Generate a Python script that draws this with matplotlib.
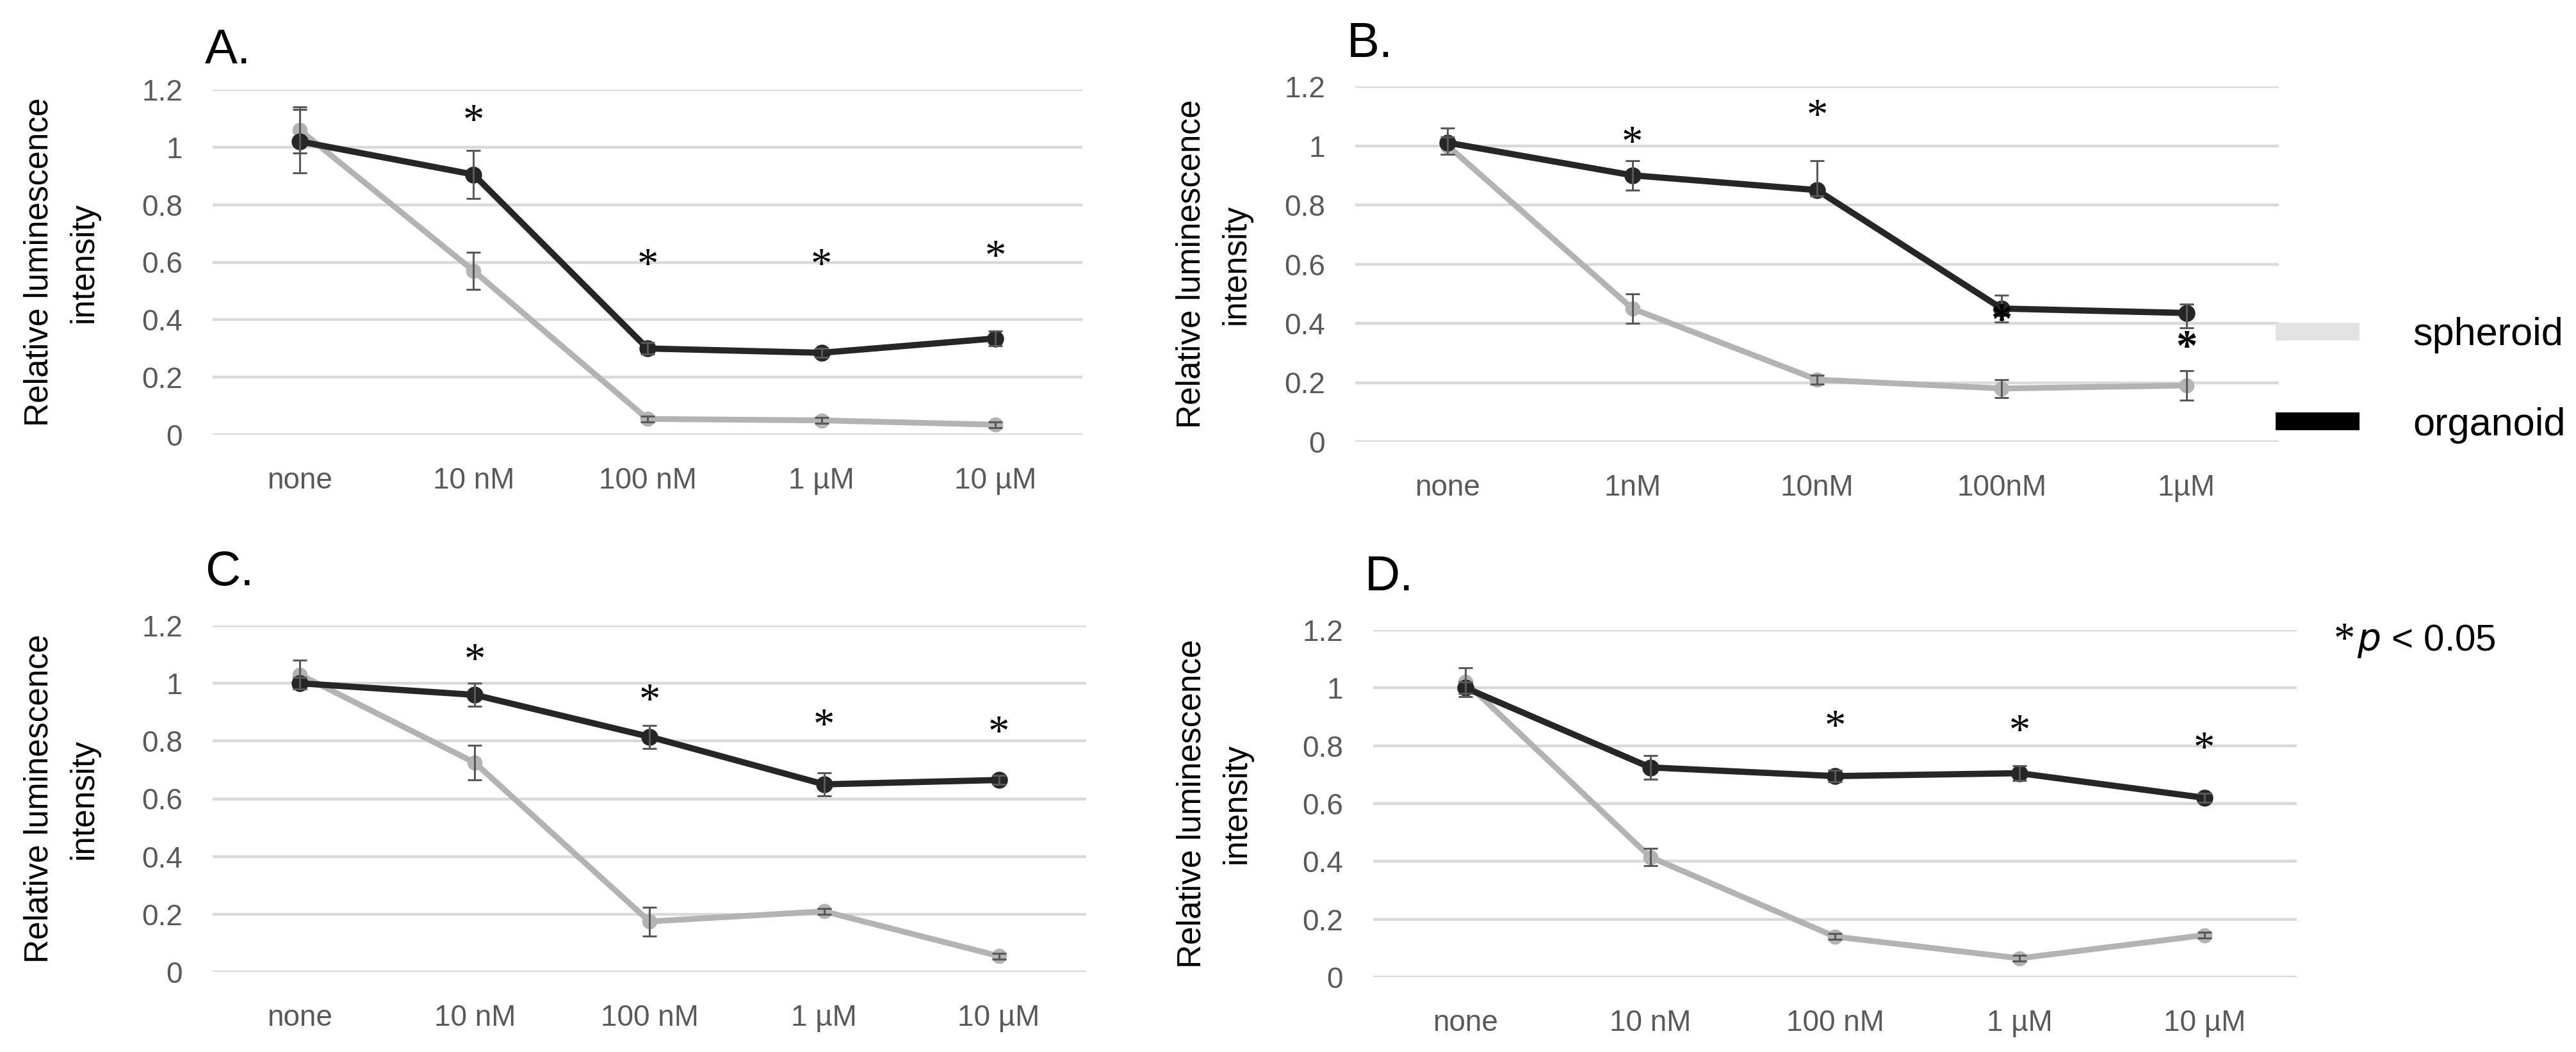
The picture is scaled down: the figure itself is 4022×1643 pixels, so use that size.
import matplotlib
matplotlib.use("Agg")
import matplotlib.pyplot as plt
from matplotlib.lines import Line2D

plt.rcParams['font.family'] = ['Liberation Sans', 'DejaVu Sans']

# ---- data ----
doses_a = ['none', '10 nM', '100 nM', '1 µM', '10 µM']
doses_b = ['none', '1nM', '10nM', '100nM', '1µM']

# panel A
sph_a = [1.06, 0.57, 0.055, 0.05, 0.035]
sph_a_err = [0.08, 0.065, 0.01, 0.01, 0.01]
org_a = [1.02, 0.905, 0.30, 0.285, 0.335]
org_a_err = [0.11, 0.083, 0.02, 0.015, 0.025]
star_a = [None, 1.10, 0.60, 0.60, 0.63]

# panel B
sph_b = [1.0, 0.45, 0.21, 0.18, 0.19]
sph_b_err = [0.03, 0.05, 0.015, 0.03, 0.05]
org_b = [1.01, 0.90, 0.85, 0.45, 0.435]
org_b_err_lo = [0.04, 0.05, 0.02, 0.045, 0.05]
org_b_err_hi = [0.05, 0.05, 0.10, 0.045, 0.03]
star_b = [None, 1.02, 1.11, 0.42, 0.33]
bold_b = [False, False, False, True, True]

# panel C
sph_c = [1.03, 0.725, 0.175, 0.21, 0.055]
sph_c_err = [0.05, 0.06, 0.05, 0.01, 0.01]
org_c = [1.0, 0.96, 0.815, 0.65, 0.665]
org_c_err = [0.02, 0.04, 0.04, 0.04, 0.015]
star_c = [None, 1.09, 0.95, 0.865, 0.84]

# panel D
sph_d = [1.02, 0.415, 0.14, 0.065, 0.145]
sph_d_err = [0.05, 0.03, 0.01, 0.01, 0.01]
org_d = [1.0, 0.725, 0.695, 0.705, 0.62]
org_d_err = [0.02, 0.04, 0.02, 0.025, 0.015]
star_d = [None, None, 0.875, 0.86, 0.80]

GRAY = '#b3b3b3'
BLACK = '#262626'
ERR = '#595959'
GRID = '#d9d9d9'

W, H = 4022, 1643
fig = plt.figure(figsize=(W / 100, H / 100), dpi=100)


def px_axes(x0, x1, ytop, ybot):
    return fig.add_axes([x0 / W, 1 - ybot / H, (x1 - x0) / W, (ybot - ytop) / H])


def draw_panel(ax, letter, letter_y, label_x, labels, sph, sph_err, org, org_err,
               stars, bold=None):
    x = list(range(len(labels)))
    ax.set_xlim(-0.5, len(labels) - 0.5)
    ax.set_ylim(0, 1.2)
    ax.set_yticks([0, 0.2, 0.4, 0.6, 0.8, 1.0, 1.2])
    ax.set_yticklabels(['0', '0.2', '0.4', '0.6', '0.8', '1', '1.2'])
    ax.set_xticks(x)
    ax.set_xticklabels(labels)
    ax.grid(axis='y', color=GRID, lw=3.2, zorder=0)
    ax.set_axisbelow(True)
    for s in ax.spines.values():
        s.set_visible(False)
    ax.tick_params(axis='both', length=0, labelsize=33, colors='#595959')
    ax.tick_params(axis='y', pad=34)
    ax.tick_params(axis='x', pad=36)

    ax.plot(x, sph, color=GRAY, lw=6.5, marker='o', ms=16, zorder=3)
    ax.plot(x, org, color=BLACK, lw=7, marker='o', ms=18, zorder=4)
    ax.errorbar(x, sph, yerr=sph_err, fmt='none', ecolor=ERR, elinewidth=2.2,
                capsize=8, capthick=2.2, zorder=5)
    ax.errorbar(x, org, yerr=org_err, fmt='none', ecolor=ERR, elinewidth=2.2,
                capsize=8, capthick=2.2, zorder=5)

    for i, yv in enumerate(stars):
        if yv is None:
            continue
        w = 'bold' if (bold and bold[i]) else 'normal'
        ax.text(i, yv, '*', family='Liberation Serif', fontsize=48, fontweight=w,
                ha='center', va='center_baseline', color='black', zorder=6)

    ax.set_ylabel('Relative luminescence\nintensity', fontsize=37, color='black',
                  linespacing=1.55)
    ax.yaxis.label.set_va('center')
    ax.yaxis.set_label_coords(label_x, 0.5)
    ax.text(-0.009, letter_y, letter, transform=ax.transAxes, fontsize=55,
            ha='left', va='baseline', color='black')


ax_a = px_axes(332, 1690, 140, 679)
draw_panel(ax_a, 'A.', 1.076, -0.174, doses_a, sph_a, sph_a_err, org_a, org_a_err, star_a)

ax_b = px_axes(2116, 3558, 135, 690)
draw_panel(ax_b, 'B.', 1.083, -0.153, doses_b, sph_b, sph_b_err, org_b,
           [org_b_err_lo, org_b_err_hi], star_b, bold=bold_b)

ax_c = px_axes(332, 1696, 977, 1518)
draw_panel(ax_c, 'C.', 1.116, -0.173, doses_a, sph_c, sph_c_err, org_c, org_c_err, star_c)

ax_d = px_axes(2144, 3586, 984, 1526)
draw_panel(ax_d, 'D.', 1.114, -0.172, doses_a, sph_d, sph_d_err, org_d, org_d_err, star_d)

# legend
handles = [Line2D([], [], color='#e3e3e3', lw=20, solid_capstyle='butt'),
           Line2D([], [], color='black', lw=20, solid_capstyle='butt')]
fig.legend(handles, ['spheroid', 'organoid'], loc='upper left',
           bbox_to_anchor=(3553 / W, 1 - 495 / H), frameon=False, fontsize=44,
           handlelength=2.15, handletextpad=1.35, labelspacing=1.37, borderpad=0,
           borderaxespad=0)

# significance note
fig.text(3644 / W, 1 - 994 / H, '*', family='Liberation Serif', fontsize=48,
         ha='left', va='center_baseline')
fig.text(3680 / W, 1 - 994 / H, r'$\it{p}$ < 0.05', fontsize=42,
         ha='left', va='center_baseline')

fig.savefig('out.png', dpi=100)
